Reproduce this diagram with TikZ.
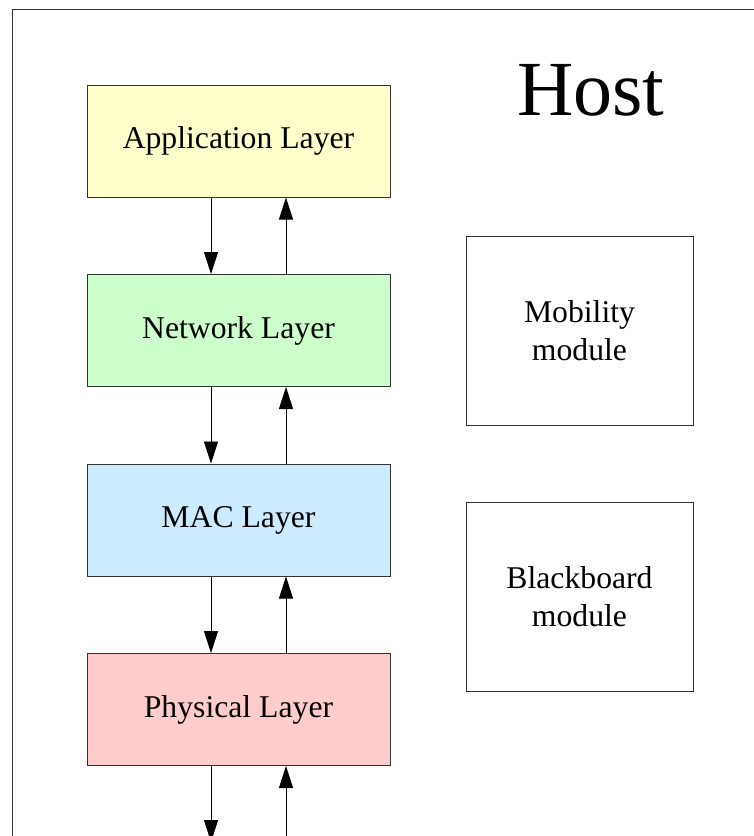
\documentclass[tikz,border=0pt]{standalone}
\usepackage{fontspec}
\setmainfont{Liberation Serif}
\usetikzlibrary{arrows.meta,positioning}
\usepackage{xcolor}
\definecolor{appfill}{HTML}{FFFFCC}
\definecolor{netfill}{HTML}{CCFFCC}
\definecolor{macfill}{HTML}{CCEBFF}
\definecolor{phyfill}{HTML}{FFCCCC}

\begin{document}
\begin{tikzpicture}[x=1pt,y=-1pt,node distance=76.5pt,
 font=\fontsize{31.7}{38}\selectfont,
 layer/.style={draw=black!80,line width=1pt,align=center,inner sep=0pt,minimum width=303pt,minimum height=112pt},
 module/.style={draw=black!80,line width=1pt,align=center,inner sep=0pt,minimum width=227pt,minimum height=189pt},
 flow/.style={line width=0.9pt,-{Triangle[length=22pt,width=14pt]}},
 >=Stealth]
\useasboundingbox (0,0) rectangle (754,836);
\clip (0,0) rectangle (754,836);
\draw[line width=1pt,black!80] (12,9.5) rectangle (820,900);
\node[layer,fill=appfill] (app) at (238.5,141) {Application Layer};
\node[layer,fill=netfill,below=of app] (net) {Network Layer};
\node[layer,fill=macfill,below=of net] (mac) {MAC Layer};
\node[layer,fill=phyfill,below=of mac] (phy) {Physical Layer};
\node[module,right=75pt of net] (mob) {Mobility\\module};
\node[module,below=76pt of mob] (bb) {Blackboard\\module};
\node[anchor=base,font=\fontsize{78}{90}\selectfont] (host) at (591,115) {Host};
\coordinate (down) at ([xshift=-27.5pt]phy.south |- 0,842);
\coordinate (up) at ([xshift=47.5pt]phy.south |- 0,870);
\foreach \a/\b in {app/net,net/mac,mac/phy}{
 \draw[flow] ([xshift=-27.5pt]\a.south)--([xshift=-27.5pt]\b.north);
 \draw[flow] ([xshift=47.5pt]\b.north)--([xshift=47.5pt]\a.south);}
\draw[flow] ([xshift=-27.5pt]phy.south)--(down);
\draw[flow] (up)--([xshift=47.5pt]phy.south);
\end{tikzpicture}
\end{document}
